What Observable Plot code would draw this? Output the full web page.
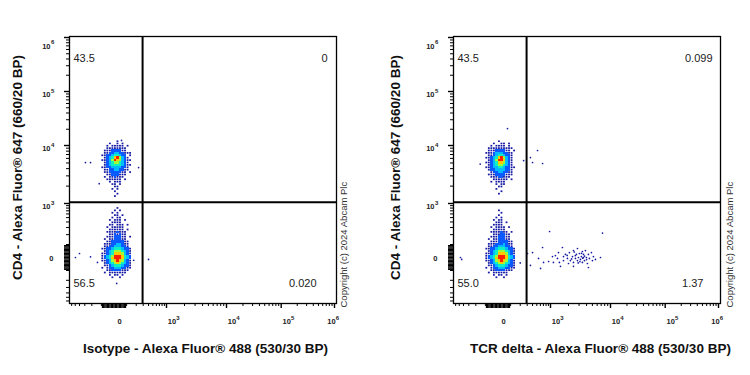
<!DOCTYPE html>
<html><head><meta charset="utf-8">
<script src="https://cdn.jsdelivr.net/npm/d3@7"></script>
<script src="https://cdn.jsdelivr.net/npm/@observablehq/plot@0.6"></script>
<style>
body{margin:0;background:#fff;font-family:"Liberation Sans",Arial,sans-serif}
#wrap{display:flex;width:750px;height:375px;overflow:hidden}
#wrap svg{flex:none}
</style></head><body><div id="wrap"></div>
<script>
// ---------- data ----------
const panelNames = ["Isotype", "TCR delta"];
const xLabels = ["Isotype - Alexa Fluor® 488 (530/30 BP)", "TCR delta - Alexa Fluor® 488 (530/30 BP)"];
const yLabel = "CD4 - Alexa Fluor® 647 (660/20 BP)";
const copyright = "Copyright (c) 2024 Abcam Plc";
// quadrant percentages: upper-left, upper-right, lower-left, lower-right
const isoPercents = ["43.5", "0", "56.5", "0.020"];
const tcrPercents = ["43.5", "0.099", "55.0", "1.37"];
const majorTicks = [0, 1000, 10000, 100000, 1000000];
const majorTickBase = ["0", "10", "10", "10", "10"];
const majorTickExp = ["", "3", "4", "5", "6"];
const minorTicks = [-900,-800,-700,-600,-500,-400,-300,-200,-100,-90,-80,-70,-60,-50,-40,-30,-20,-10,
  10,20,30,40,50,60,70,80,90,100,200,300,400,500,600,700,800,900,
  2000,3000,4000,5000,6000,7000,8000,9000,20000,30000,40000,50000,60000,70000,80000,90000,
  200000,300000,400000,500000,600000,700000,800000,900000];
const gateX = 290;      // Alexa Fluor 488 gate
const gateY = 1050;     // CD4 gate
// population centres (fluorescence units) : [x, y]
const upperCenter = [20, 5500];
const lowerCenter = [20, 0];
// binned density maps (1 = sparse ... 7 = densest)
const isoUpper = [
"......1.....",
"...1..1.1...",
"..1.11111.1.",
"..11111111..",
".111222211..",
".11223322111",
"1122344322.1",
".1234675321.",
"112357653211",
".1234554321.",
".12344443211",
"11223333221.",
".1122332211.",
".112222211.1",
"..11222111..",
".1.112111...",
"..111111.1..",
"...1.111....",
"....11.1....",
".....11.....",
"....1.1.....",
".....1......",
"......1.....",
".....1......"];
const isoLower = [
"......1.....",
".....1.1....",
"....1.1.....",
".....11.1...",
"....1.11....",
"...1.111.1..",
"....1111....",
"...11.111.1.",
"..1.11111...",
"...111111.1.",
"..11112111..",
"...1121211..",
"..11122211.1",
".1.1122211..",
"..112222211.",
".1112233211.",
".1122333221.",
"112234443221",
".12345554321",
"112346665321",
"123457776432",
"123467776432",
"112356765321",
".12345654321",
".11234443221",
"1.1223332211",
"..112222111.",
".1.1111111..",
"...1.11.1...",
"....1..1...."];
const tcrUpper = [
".....1......",
"...1..11.1..",
"..1.1111.1..",
".1111111111.",
".111222211.1",
"11123332211.",
".1123443221.",
"11234675321.",
".1235776321.",
"11234665321.",
".1234554321.",
"112334432211",
".1223333221.",
"..122332211.",
".1112222111.",
"..11122111..",
"...111111.1.",
"..1.1111....",
"....1.11....",
".....11.....",
"....1.......",
"......1.....",
".....1......"];
const tcrLower = [
".....1......",
"......1.....",
".....1......",
"....1.1.....",
"...1.11.....",
"....111.1...",
"...1111.....",
"..1.1111.1..",
"...11111....",
"..1111211.1.",
"...1112211..",
"..11122211..",
".1.1122211..",
"..111222211.",
".1112223211.",
".1122333221.",
"112234443221",
".12345554321",
"112346665321",
"123457776432",
"123467776432",
"112356765321",
".12345654321",
".11234443221",
"1.1223332211",
"..112222111.",
".1.111111...",
"...1.11.1...",
"....1..1...."];
// individual sparse events [x, y]
const isoEvents = [[-290,5090],[-216,5090],[57,12400],[231,4170],[-400,29],[-494,0],[400,-14],
  [-216,5],[-137,-36],[20,-240],[170,-20],[-120,2200]];
const tcrEvents = [[73,20600],[358,6200],[519,8200],[400,5100],[671,4900],[245,5500],[-468,0],[-440,-14],
  [-150,4800],[200,-40],
  [306,29],[400,36],[358,-59],[546,-7],[671,75],[705,-36],[955,240],[908,-29],[1080,7],[1210,14],
  [1310,-7],[1360,36],[1410,-36],[1585,75],[1650,7],[1650,-22],[1780,22],[1920,-7],[2000,-44],
  [2070,36],[2150,-22],[2330,7],[2420,-36],[2420,51],[2610,-7],[2710,22],[2820,67],[2820,-22],
  [2930,0],[3040,29],[3160,-14],[3280,7],[3410,44],[3410,-36],[3550,0],[3550,22],[3690,-22],
  [3830,51],[3980,0],[4130,-44],[4290,22],[4460,-7],[4820,36],[5010,-22],[5200,7],[5620,-14],
  [4290,-75],[2420,-66],[1470,-66],[1120,-36],[6810,0],[7360,220],[606,-83],
  [2600,14],[3100,-30],[2250,-10],[3700,10],[2900,-40],[3300,30],[1900,15],[4000,-15],[2500,40],[3450,-5]];

// ---------- rendering ----------
const T = v => Math.asinh(v / 150); // biexponential-like display transform
const levelColors = ["", "#1418a0", "#0a5aff", "#00bcff", "#10f0c0", "#9cff38", "#ffc800", "#ff1e00"];

function buildCells(rows, center, centerRow, sx, sy) {
  const out = [];
  const cx = T(center[0]), cy = T(center[1]);
  const mid = (rows[0].length - 1) / 2;
  rows.forEach((row, r) => {
    [...row].forEach((ch, c) => {
      const level = +ch;
      if (!level) return;
      const ux = cx + (c - mid) * sx, uy = cy + (centerRow - r) * sy;
      out.push({x1: ux - sx / 2, x2: ux + sx / 2, y1: uy - sy / 2, y2: uy + sy / 2, level});
    });
  });
  return out;
}

const ticks = majorTicks.map((v, i) => ({v, base: majorTickBase[i], exp: majorTickExp[i]}));
const tickFont = {fontSize: 7.5, fontWeight: "bold", fill: "#222"};
const expFont = {fontSize: 6, fontWeight: "bold", fill: "#222"};

function panel(i) {
  const ml = i === 0 ? 69 : 78, mr = i === 0 ? 39 : 30;
  const upperRows = i === 0 ? isoUpper : tcrUpper;
  const lowerRows = i === 0 ? isoLower : tcrLower;
  const events = i === 0 ? isoEvents : tcrEvents;
  const pct = i === 0 ? isoPercents : tcrPercents;
  const cells = [
    ...buildCells(upperRows, upperCenter, 8, 0.125, 0.095),
    ...buildCells(lowerRows, lowerCenter, lowerRows.length - 9.5, 0.125, 0.115)
  ];
  const nearZero = minorTicks.filter(v => Math.abs(v) < 100);
  const xMinor = minorTicks.filter(v => v > -660 && Math.abs(v) >= 100);
  const yMinor = minorTicks.filter(v => v > -670 && Math.abs(v) >= 100);
  const xScale = {type: "linear", domain: [T(-670), T(0), T(1e3), T(1e4), T(1e5), T(1e6)],
    range: [ml, ml + 44.5, ml + 97, ml + 157, ml + 211.7, ml + 265]};
  const yScale = {type: "linear", domain: [T(-680), T(0), T(1e3), T(1e4), T(1e5), T(1e6)],
    range: [303, 257, 203, 145, 91, 37]};
  const tMid = ticks.filter(t => t.v > 0 && t.v < 1e6);
  const tTop = ticks.filter(t => t.v === 1e6);
  const tZero = ticks.filter(t => t.v === 0);
  const X = d => T(d.v), Y = d => T(d.v);
  return Plot.plot({
    width: 375, height: 375,
    marginLeft: ml, marginRight: mr, marginTop: 36, marginBottom: 72,
    x: xScale, y: yScale,
    color: {type: "identity"},
    style: {fontFamily: "Liberation Sans, Arial, sans-serif", fontSize: "8px", color: "#000", background: "#fff"},
    marks: [
      Plot.rect(cells.filter(d => d.level === 1), {x1: "x1", x2: "x2", y1: "y1", y2: "y2", fill: d => levelColors[d.level], inset: 0.35}),
      Plot.rect(cells.filter(d => d.level > 1), {x1: "x1", x2: "x2", y1: "y1", y2: "y2", fill: d => levelColors[d.level], shapeRendering: "crispEdges"}),
      Plot.dot(events, {x: d => T(d[0]), y: d => T(d[1]), r: 0.85, fill: levelColors[1], stroke: null}),
      Plot.ruleX([gateX], {x: d => T(d), stroke: "#000", strokeWidth: 2}),
      Plot.ruleY([gateY], {y: d => T(d), stroke: "#000", strokeWidth: 2}),
      Plot.frame({stroke: "#000", strokeWidth: 1.3}),
      // ticks
      Plot.axisX(xMinor.map(T), {tickSize: 3, tickFormat: () => "", label: null}),
      Plot.axisX(nearZero.map(T), {tickSize: 5, tickFormat: () => "", label: null, strokeWidth: 1.3}),
      Plot.axisX(majorTicks.map(T), {tickSize: 5, tickFormat: () => "", label: null, strokeWidth: 1.4}),
      Plot.axisY(yMinor.map(T), {tickSize: 3, tickFormat: () => "", label: null}),
      Plot.axisY(nearZero.map(T), {tickSize: 5, tickFormat: () => "", label: null, strokeWidth: 1.3}),
      Plot.axisY(majorTicks.map(T), {tickSize: 5, tickFormat: () => "", label: null, strokeWidth: 1.4}),
      // x tick labels
      Plot.text(tZero, {x: X, frameAnchor: "bottom", text: "base", dx: 5.5, dy: 20, ...tickFont}),
      Plot.text(tMid, {x: X, frameAnchor: "bottom", text: "base", dx: 5.5, dy: 20.5, ...tickFont}),
      Plot.text(tMid, {x: X, frameAnchor: "bottom", text: "exp", textAnchor: "start", dx: 9.8, dy: 16.5, ...expFont}),
      Plot.text(tTop, {x: X, frameAnchor: "bottom", text: "base", dx: -3, dy: 20.5, ...tickFont}),
      Plot.text(tTop, {x: X, frameAnchor: "bottom", text: "exp", textAnchor: "start", dx: 1.3, dy: 16.5, ...expFont}),
      // y tick labels
      Plot.text(tZero, {y: Y, frameAnchor: "left", text: "base", textAnchor: "end", dx: -16, dy: 1, ...tickFont}),
      Plot.text(tMid, {y: Y, frameAnchor: "left", text: "base", textAnchor: "end", dx: -19, dy: 3.5, ...tickFont}),
      Plot.text(tMid, {y: Y, frameAnchor: "left", text: "exp", textAnchor: "start", dx: -18.6, dy: 0, ...expFont}),
      Plot.text(tTop, {y: Y, frameAnchor: "left", text: "base", textAnchor: "end", dx: -19, dy: 9.5, ...tickFont}),
      Plot.text(tTop, {y: Y, frameAnchor: "left", text: "exp", textAnchor: "start", dx: -18.6, dy: 5, ...expFont}),
      // quadrant statistics
      Plot.text([pct[0]], {text: d => d, frameAnchor: "top-left", textAnchor: "start", dx: 4, dy: 18, fontSize: 11, fill: "#222"}),
      Plot.text([pct[1]], {text: d => d, frameAnchor: "top-right", textAnchor: "end", dx: i === 0 ? -9 : -8, dy: 18, fontSize: 11, fill: "#222"}),
      Plot.text([pct[2]], {text: d => d, frameAnchor: "bottom-left", textAnchor: "start", dx: 4, dy: -17, fontSize: 11, fill: "#222"}),
      Plot.text([pct[3]], {text: d => d, frameAnchor: "bottom-right", textAnchor: "end", dx: i === 0 ? -20 : -17, dy: -17, fontSize: 11, fill: "#222"}),
      // titles
      Plot.text([yLabel], {text: d => d, frameAnchor: "left", textAnchor: "middle", rotate: -90, dx: i === 0 ? -52 : -58, dy: -2.5, fontSize: 13.5, fontWeight: "bold", fill: "#111"}),
      Plot.text([xLabels[i]], {text: d => d, frameAnchor: "bottom", textAnchor: "middle", dx: i === 0 ? 2.5 : 13.5, dy: 49, fontSize: 13.5, fontWeight: "bold", fill: "#111"}),
      Plot.text([copyright], {text: d => d, frameAnchor: "bottom-right", rotate: -90, textAnchor: "start", dx: i === 0 ? 10.5 : 12, dy: 4, fontSize: 9.5, fill: "#333"})
    ]
  });
}

const wrap = document.getElementById("wrap");
panelNames.forEach((name, i) => wrap.appendChild(panel(i)));
</script>
</body></html>
